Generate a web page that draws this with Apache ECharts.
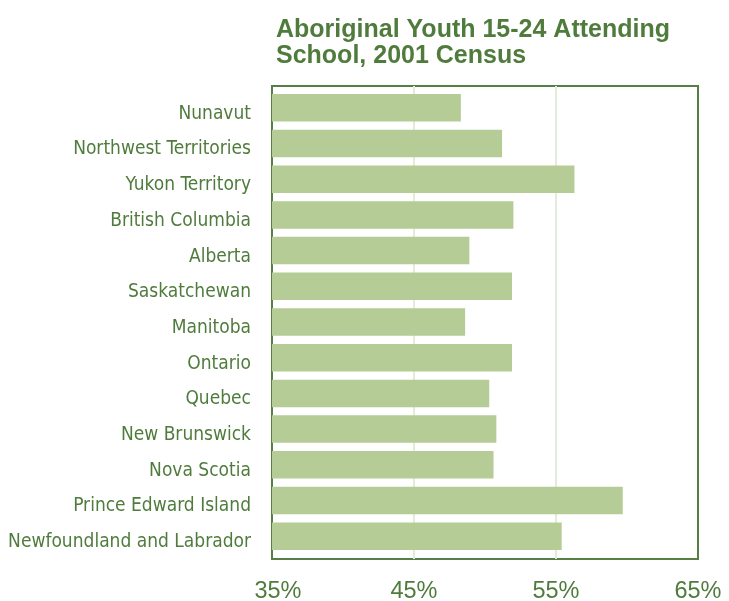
<!DOCTYPE html>
<html>
<head>
<meta charset="utf-8">
<title>Aboriginal Youth 15-24 Attending School, 2001 Census</title>
<script src="https://cdn.jsdelivr.net/npm/echarts@6/dist/echarts.min.js"></script>
<style>
  html, body { margin: 0; padding: 0; background: #ffffff; }
  #chart { width: 729px; height: 601px; }
</style>
</head>
<body>
<div id="chart"></div>
<script>
// Provinces and territories, top to bottom
const regions = [
  'Nunavut',
  'Northwest Territories',
  'Yukon Territory',
  'British Columbia',
  'Alberta',
  'Saskatchewan',
  'Manitoba',
  'Ontario',
  'Quebec',
  'New Brunswick',
  'Nova Scotia',
  'Prince Edward Island',
  'Newfoundland and Labrador'
];

// Share of Aboriginal youth aged 15-24 attending school (%)
const attending = [48.3, 51.2, 56.3, 52.0, 48.9, 51.9, 48.6, 51.9, 50.3, 50.8, 50.6, 59.7, 55.4];

// Percentage axis
const axisMin = 35;
const axisMax = 65;
const axisStep = 10;

const titleLines = ['Aboriginal Youth 15-24 Attending', 'School, 2001 Census'];

const green = '#4f7c3c';
const frame = '#557f45';
const barFill = '#b5cc96';
const gridTint = '#e3ecd8';

const chart = echarts.init(document.getElementById('chart'), null, { renderer: 'canvas' });

chart.setOption({
  animation: false,
  backgroundColor: '#ffffff',
  title: {
    text: titleLines.join('\n'),
    left: 271,
    top: 12,
    textStyle: {
      fontFamily: '"Liberation Sans", Arial, sans-serif',
      fontWeight: 'bold',
      fontSize: 25,
      lineHeight: 26,
      color: green
    }
  },
  grid: [
    // framed panel with the percentage scale
    { left: 272, right: 31, top: 86, bottom: 42, outerBoundsMode: 'none', containLabel: false,
      show: true, borderColor: frame, borderWidth: 2, backgroundColor: 'transparent' },
    // bar layout
    { left: 272, right: 31, top: 90, bottom: 47, outerBoundsMode: 'none', containLabel: false }
  ],
  xAxis: [
    {
      gridIndex: 0,
      type: 'value',
      min: axisMin,
      max: axisMax,
      interval: axisStep,
      axisLine: { show: false },
      axisTick: { show: false },
      splitLine: { show: true, showMinLine: false, showMaxLine: false, lineStyle: { color: gridTint, width: 2 } },
      axisLabel: {
        margin: 21,
        formatter: v => (v === axisMin ? '{first|' + v + '%}' : v + '%'),
        fontFamily: '"Liberation Sans", Arial, sans-serif',
        fontSize: 23.5,
        color: green,
        rich: {
          first: {
            fontFamily: '"Liberation Sans", Arial, sans-serif',
            fontSize: 23.5,
            color: green,
            padding: [0, 0, 0, 12]
          }
        }
      }
    },
    {
      gridIndex: 1,
      type: 'value',
      min: axisMin,
      max: axisMax,
      show: false,
      splitLine: { show: false }
    }
  ],
  yAxis: [
    {
      gridIndex: 0,
      type: 'category',
      data: regions,
      show: false
    },
    {
      gridIndex: 1,
      type: 'category',
      data: regions,
      inverse: true,
      axisLine: { show: false },
      axisTick: { show: false },
      splitLine: { show: false },
      axisLabel: {
        margin: 21,
        formatter: v => '{name|' + v + '}',
        rich: {
          name: {
            fontFamily: '"Liberation Sans Narrow", "DejaVu Sans Condensed", "Liberation Sans", sans-serif',
            fontSize: 19,
            color: green,
            padding: [12, 0, 0, 0]
          }
        }
      }
    }
  ],
  series: [
    {
      type: 'bar',
      xAxisIndex: 1,
      yAxisIndex: 1,
      data: attending,
      barCategoryGap: '23%',
      itemStyle: { color: barFill },
      silent: true
    }
  ]
});
</script>
</body>
</html>
